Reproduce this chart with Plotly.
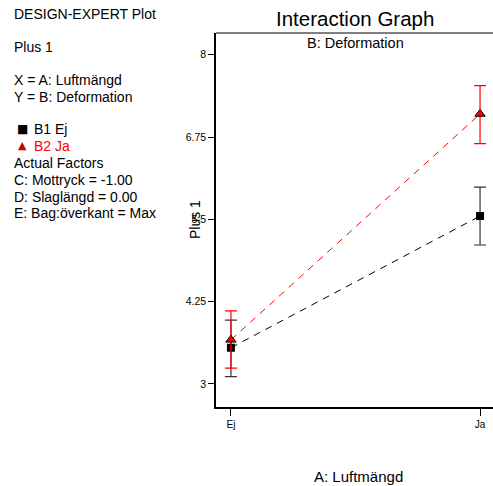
import plotly.graph_objects as go

W, H = 493, 486

categories = ["Ej", "Ja"]
x_pos = [0, 1]
b1_mean = [3.55, 5.55]
b1_hi = [0.42, 0.44]
b1_lo = [0.44, 0.44]
b2_mean = [3.67, 7.10]
b2_hi = [0.44, 0.43]
b2_lo = [0.43, 0.45]
y_ticks = [3, 4.25, 5.5, 6.75, 8]
y_tick_labels = ["3", "4.25", "5.5", "6.75", "8"]

FONT = "Liberation Sans, Arial, sans-serif"

fig = go.Figure()
# dashed lines
fig.add_trace(go.Scatter(x=x_pos, y=b1_mean, mode="lines",
                         line=dict(color="black", width=1, dash="7px,6px"),
                         showlegend=False, hoverinfo="skip"))
fig.add_trace(go.Scatter(x=x_pos, y=b2_mean, mode="lines",
                         line=dict(color="red", width=1, dash="7px,6px"),
                         showlegend=False, hoverinfo="skip"))
# error bars + markers
fig.add_trace(go.Scatter(x=x_pos, y=b1_mean, mode="markers",
                         marker=dict(symbol="square", size=8, color="black"),
                         error_y=dict(type="data", array=b1_hi, arrayminus=b1_lo,
                                      color="#333333", thickness=1.2, width=6),
                         showlegend=False))
fig.add_trace(go.Scatter(x=x_pos, y=b2_mean, mode="markers",
                         marker=dict(symbol="triangle-up", size=9, color="red",
                                     line=dict(color="black", width=1)),
                         error_y=dict(type="data", array=b2_hi, arrayminus=b2_lo,
                                      color="red", thickness=1.2, width=6),
                         showlegend=False))

x0p, x1p = 216 / W, 1.0
y0p, y1p = (H - 407) / H, (H - 33) / H

fig.update_layout(
    width=W, height=H,
    margin=dict(l=0, r=0, t=0, b=0),
    paper_bgcolor="white", plot_bgcolor="white",
    font=dict(family=FONT, color="black"),
    xaxis=dict(domain=[x0p, x1p], range=[-0.06, 1.052],
               tickvals=x_pos, ticktext=categories,
               ticks="outside", ticklen=7, tickwidth=1, tickcolor="black",
               showline=True, linecolor="black", linewidth=2,
               showgrid=False, zeroline=False,
               tickfont=dict(size=10, family=FONT)),
    yaxis=dict(domain=[y0p, y1p], range=[2.65, 8.33],
               tickvals=y_ticks, ticktext=y_tick_labels,
               ticks="outside", ticklen=6, tickwidth=1, tickcolor="black",
               showline=True, linecolor="black", linewidth=1.5,
               showgrid=False, zeroline=False,
               tickfont=dict(size=10.5, family=FONT)),
)

# top border
fig.add_shape(type="line", xref="paper", yref="paper",
              x0=x0p, x1=1, y0=y1p, y1=y1p,
              line=dict(color="black", width=1))

def px(x):
    return x / W

def py(y):
    return (H - y) / H

ann = []
ann.append(dict(text="Interaction Graph", x=px(355), y=py(19), size=20.5))
ann.append(dict(text="B: Deformation", x=px(355), y=py(43), size=14.5))
ann.append(dict(text="A: Luftmängd", x=px(358), y=py(476), size=15))
for a in ann:
    fig.add_annotation(text=a["text"], x=a["x"], y=a["y"], xref="paper", yref="paper",
                       showarrow=False, xanchor="center", yanchor="middle",
                       font=dict(size=a["size"], family=FONT, color="black"))

fig.add_annotation(text="Plus 1", x=px(195), y=py(220), xref="paper", yref="paper",
                   showarrow=False, textangle=-90, xanchor="center", yanchor="middle",
                   font=dict(size=14, family=FONT, color="black"))

left_lines = [
    ("DESIGN-EXPERT Plot", 14, "black"),
    ("Plus 1", 47, "black"),
    ("X = A: Luftmängd", 80, "black"),
    ("Y = B: Deformation", 97, "black"),
    ("B1 Ej", 129, "black"),
    ("B2 Ja", 146, "red"),
    ("Actual Factors", 163, "black"),
    ("C: Mottryck = -1.00", 180, "black"),
    ("D: Slaglängd = 0.00", 197, "black"),
    ("E: Bag:överkant = Max", 213, "black"),
]
for text, yy, col in left_lines:
    xx = 32 if text in ("B1 Ej", "B2 Ja") else 12
    fig.add_annotation(text=text, x=px(xx), y=py(yy), xref="paper", yref="paper",
                       showarrow=False, xanchor="left", yanchor="middle",
                       font=dict(size=14, family=FONT, color=col))

# legend symbols
fig.add_annotation(text="■", x=px(22), y=py(129), xref="paper", yref="paper",
                   showarrow=False, xanchor="center", yanchor="middle",
                   font=dict(size=12, family="DejaVu Sans", color="black"))
fig.add_annotation(text="▲", x=px(22), y=py(146), xref="paper", yref="paper",
                   showarrow=False, xanchor="center", yanchor="middle",
                   font=dict(size=11, family="DejaVu Sans", color="#cc0000"))

fig.write_html("out.html", config={"displayModeBar": False},
               post_script="document.body.style.margin='0px';")
